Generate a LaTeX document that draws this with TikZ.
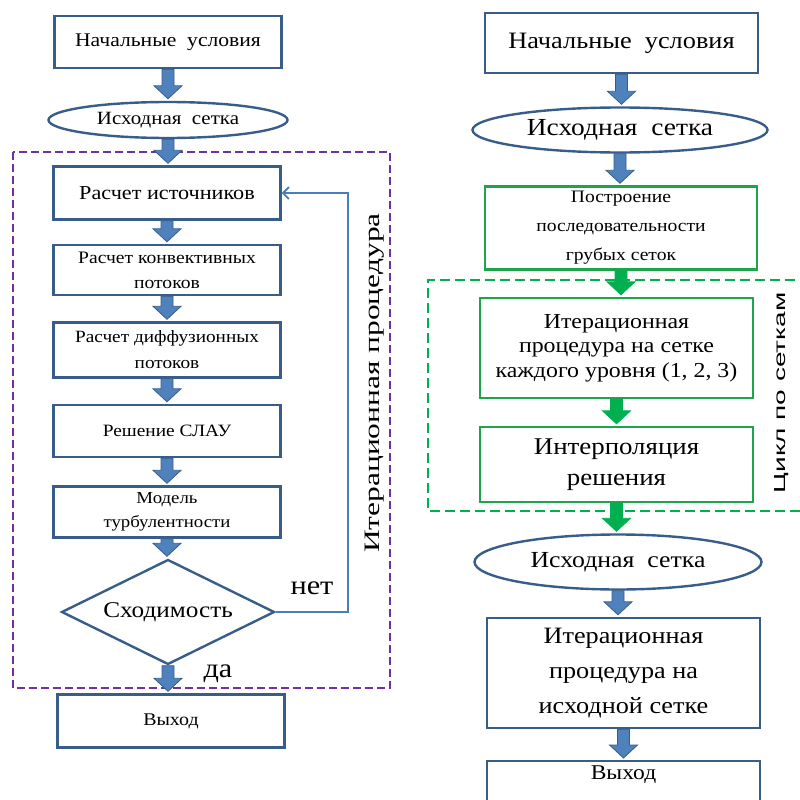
\documentclass[tikz,border=0pt]{standalone}
\usepackage{fontspec}
\setmainfont[FakeStretch=1.12]{Liberation Serif}
\newfontfamily\rotserif[FakeStretch=1.43]{Liberation Serif}
\newfontfamily\rotsans[FakeStretch=1.75]{Liberation Sans}
\usetikzlibrary{shapes.geometric,calc,arrows.meta}
\definecolor{bord}{RGB}{56,93,138}
\definecolor{arrf}{RGB}{79,129,189}
\definecolor{arrb}{RGB}{56,93,138}
\definecolor{grn}{RGB}{0,176,80}
\definecolor{grnb}{RGB}{30,165,75}
\definecolor{purp}{RGB}{112,48,160}
\definecolor{fbl}{RGB}{74,126,187}
\newcommand{\fs}[2]{\fontsize{#1}{#2}\selectfont}
\newcommand{\blk}[3]{%
  \draw[#1] let \p1=(#2), \p2=(#3) in
    (\x1-6pt,\y1) -- (\x1-6pt,\y2+15pt) -- (\x1-14pt,\y2+15pt) -- (\x1,\y2+2pt)
    -- (\x1+14pt,\y2+15pt) -- (\x1+6pt,\y2+15pt) -- (\x1+6pt,\y1) -- cycle;}
\tikzset{
  box/.style={draw=bord, line width=2.4pt, rectangle, align=center, inner sep=2pt, fill=white},
  gbox/.style={box, draw=grnb},
  ell/.style={ellipse, draw=bord, line width=2.4pt, inner sep=0pt, fill=white},
  diam/.style={diamond, aspect=2, draw=bord, line width=2.4pt, inner sep=0pt, fill=white},
  barr/.style={fill=arrf, draw=arrb, line width=0.8pt},
  garr/.style={fill=grn, draw=grn, line width=0.8pt},
  pframe/.style={draw=purp, line width=2.5pt, dash pattern=on 8pt off 4pt},
  gframe/.style={draw=grn, line width=2.5pt, dash pattern=on 10pt off 5pt},
  fback/.style={draw=fbl, line width=1.8pt, -{Straight Barb[length=6pt,width=12pt]}},
  lbl/.style={inner sep=0pt}
}
\begin{document}
\begin{tikzpicture}[x=1pt,y=-1pt]
\useasboundingbox (0,0) rectangle (800,800);
% frames
\draw[pframe] (13,152) rectangle (390,688);
\draw[gframe] (810,280) -- (428,280) -- (428,511) -- (810,511);
% left column
\node[box, minimum width=227, minimum height=52, font=\fs{19.3}{24}] (ln1) at (168,42) {Начальные\ \ условия};
\node[ell, minimum width=239, minimum height=36, font=\fs{18.7}{24}] (le1) at (168,120) {Исходная\ \ сетка};
\node[box, minimum width=227, minimum height=53, font=\fs{19.8}{24}] (lr1) at (167,193) {Расчет источников};
\node[box, minimum width=227, minimum height=50, font=\fs{17.5}{25}] (lr2) at (167,270) {Расчет конвективных\\потоков};
\node[box, minimum width=227, minimum height=55, font=\fs{17.2}{26}] (lr3) at (167,350) {Расчет диффузионных\\потоков};
\node[box, minimum width=227, minimum height=52, font=\fs{17.3}{24}] (lr4) at (167,431) {Решение СЛАУ};
\node[box, minimum width=227, minimum height=51, font=\fs{16.8}{24}] (lr5) at (167,512) {Модель\\турбулентности};
\node[diam, minimum width=213, minimum height=105, font=\fs{22.5}{26}] (ld) at (168,612) {Сходимость};
\node[box, minimum width=227, minimum height=53, font=\fs{17.8}{24}] (lout) at (171,721) {Выход};
\node[lbl, font=\fs{27}{30}] (lno) at (312,588) {нет};
\node[lbl, font=\fs{27}{30}] (lyes) at (218,674) {да};
\node[lbl, rotate=90, font=\rotserif\fs{22}{24}] (liter) at (375,383) {Итерационная процедура};
\coordinate (lfb) at (348,193);
\draw[fback] (ld.east) -| (lfb) -- (lr1.east);
\blk{barr}{ln1.south}{le1.north}
\blk{barr}{le1.south}{lr1.north}
\blk{barr}{lr1.south}{lr2.north}
\blk{barr}{lr2.south}{lr3.north}
\blk{barr}{lr3.south}{lr4.north}
\blk{barr}{lr4.south}{lr5.north}
\blk{barr}{lr5.south}{ld.north}
\blk{barr}{ld.south}{lout.north}
% right column
\node[box, minimum width=273, minimum height=60, font=\fs{23.5}{28}] (rn1) at (621.5,43) {Начальные\ \ условия};
\node[ell, minimum width=295, minimum height=45, font=\fs{24.5}{28}] (re1) at (620,130) {Исходная\ \ сетка};
\node[gbox, minimum width=272, minimum height=83, font=\fs{17.5}{29}] (rg1) at (621,228) {Построение\\последовательности\\грубых сеток};
\node[gbox, minimum width=273, minimum height=100, font=\fs{21.3}{24.5}] (rg2) at (616.5,348) {Итерационная\\процедура на сетке\\каждого уровня (1, 2, 3)};
\node[gbox, minimum width=273, minimum height=75, font=\fs{24}{31}] (rg3) at (616.5,464.5) {Интерполяция\\решения};
\node[ell, minimum width=287, minimum height=55, font=\fs{23}{28}] (re2) at (618,562) {Исходная\ \ сетка};
\node[box, minimum width=273, minimum height=110, font=\fs{23.4}{35}] (ri) at (623.5,673) {Итерационная\\процедура на\\исходной сетке};
\node[box, anchor=north, minimum width=273, inner ysep=5pt, font=\fs{21}{32}] (rout) at (623.5,760) {Выход\\\mbox{}};
\node[lbl, rotate=90, font=\rotsans\fs{16}{20}] (rcyc) at (782,393) {Цикл по сеткам};
\blk{barr}{rn1.south}{re1.north}
\blk{barr}{re1.south}{rg1.north}
\blk{garr}{rg1.south}{rg2.north}
\blk{garr}{rg2.south}{rg3.north}
\blk{garr}{rg3.south}{re2.north}
\blk{barr}{re2.south}{ri.north}
\blk{barr}{ri.south}{rout.north}
\end{tikzpicture}
\end{document}
